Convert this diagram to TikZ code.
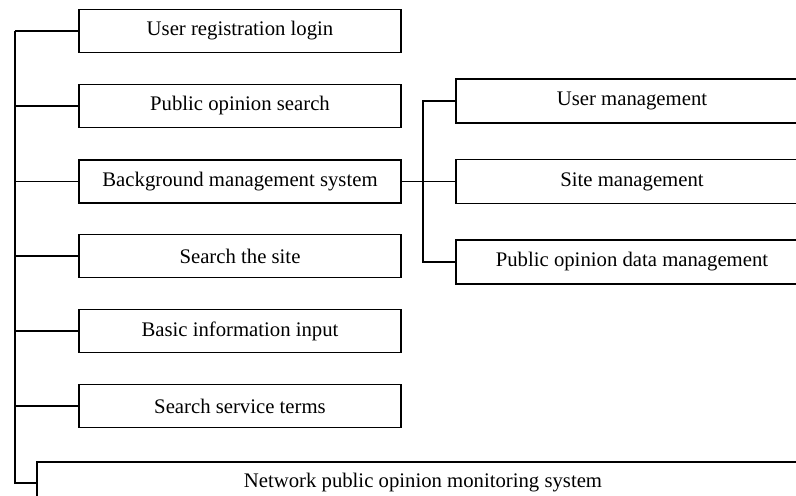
\documentclass[tikz,border=0pt]{standalone}
\usepackage{fontspec}
\setmainfont{Liberation Serif}
\usepackage{tikz}

\begin{document}
\begin{tikzpicture}[
    x=0.02cm, y=-0.02cm,
    box/.style={draw, line width=0.7pt, minimum height=0.86cm, minimum width=6.44cm,
                inner sep=0pt, align=center, font=\fontsize{11.8}{14}\selectfont},
    subbox/.style={box, minimum height=0.88cm, minimum width=7.04cm},
    link/.style={line width=0.8pt},
    trunk/.style={line width=1.1pt}
  ]
    \useasboundingbox (0,0) rectangle (796,496);
    \clip (0,0) rectangle (796,496);

    % left column
    \node[box] (login) at (240,31) {User registration login};
    \node[box] (search) at (240,106) {Public opinion search};
    \node[box] (bg) at (240,181.5) {Background management system};
    \node[box] (site) at (240,256) {Search the site};
    \node[box] (input) at (240,331) {Basic information input};
    \node[box] (terms) at (240,406) {Search service terms};

    % background management branch
    \node[subbox] (user) at (632,101) {User management};
    \node[subbox] (sitemgmt) at (632,181.5) {Site management};
    \node[subbox] (data) at (632,262) {Public opinion data management};

    \node[box, minimum width=15.44cm, minimum height=0.84cm] (root) at (423,483)
        {Network public opinion monitoring system};

    \coordinate (top) at (15,31);
    \coordinate (fork) at (423,181.5);

    \draw[trunk] (top) -- (top |- root.west) -- (root.west);
    \foreach \n in {login,search,bg,site,input,terms}
      \draw[link] (\n.west) -- (top |- \n.west);

    \draw[link] (bg.east) -- (sitemgmt.west);
    \draw[link] (user.west) -| (fork) |- (data.west);
  \end{tikzpicture}
\end{document}
